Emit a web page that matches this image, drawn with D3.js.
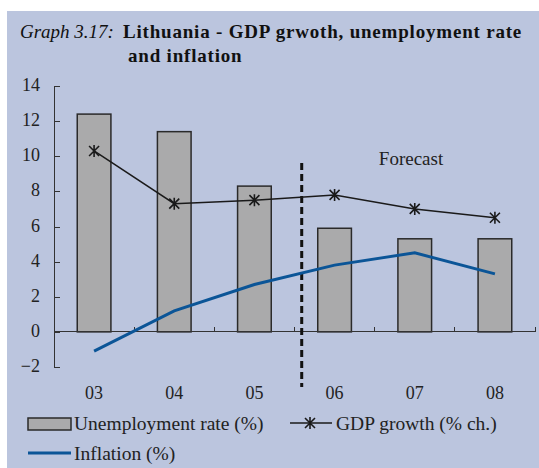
<!DOCTYPE html>
<html lang="en">
  <head>
    <meta charset="UTF-8" />
    <title>Lithuania - GDP growth, unemployment rate and inflation</title>
    <script src="https://d3js.org/d3.v7.min.js"></script>
    <style>
      body {
        margin: 0;
        background: #fff;
        font-family: "Liberation Serif", "Times New Roman", serif;
      }
      .axis path,
      .axis line {
        stroke: #333;
        shape-rendering: crispEdges;
      }
      .axis text {
        font-family: "Liberation Serif", serif;
        font-size: 18px;
        fill: #222;
      }
    </style>
  </head>
  <body>
    <script>
      var years = ["03", "04", "05", "06", "07", "08"];
      var unemployment = [12.4, 11.4, 8.3, 5.9, 5.3, 5.3];
      var gdpGrowth = [10.3, 7.3, 7.5, 7.8, 7.0, 6.5];
      var inflation = [-1.1, 1.2, 2.7, 3.8, 4.5, 3.3];
      var yTicks = [-2, 0, 2, 4, 6, 8, 10, 12, 14];

      var width = 539,
        height = 468;

      var svg = d3
        .select("body")
        .append("svg")
        .attr("width", width)
        .attr("height", height);

      // panel background
      svg
        .append("rect")
        .attr("x", 7)
        .attr("y", 11)
        .attr("width", width - 7)
        .attr("height", height - 11)
        .attr("fill", "#bbc5de");

      // title
      var title = svg
        .append("text")
        .attr("x", 20)
        .attr("y", 38)
        .style("font-size", "19px")
        .style("fill", "#111");
      title.append("tspan").style("font-style", "italic").text("Graph 3.17:");
      title
        .append("tspan")
        .attr("x", 123)
        .style("font-weight", "bold")
        .style("letter-spacing", "0.8px")
        .text("Lithuania -  GDP grwoth, unemployment rate");
      svg
        .append("text")
        .attr("x", 128)
        .attr("y", 62)
        .style("font-size", "19px")
        .style("font-weight", "bold")
        .style("letter-spacing", "0.8px")
        .style("fill", "#111")
        .text("and inflation");

      var x = d3.scaleBand().domain(years).range([54, 535]).padding(0);
      var y = d3.scaleLinear().domain([-2, 14]).range([367, 86]);
      function cx(d) {
        return x(d) + x.bandwidth() / 2;
      }

      // bars
      var barW = x.bandwidth() * 0.42;
      svg
        .selectAll(".bar")
        .data(years)
        .enter()
        .append("rect")
        .attr("class", "bar")
        .attr("x", function (d) {
          return cx(d) - barW / 2;
        })
        .attr("y", function (d, i) {
          return y(unemployment[i]);
        })
        .attr("width", barW)
        .attr("height", function (d, i) {
          return y(0) - y(unemployment[i]);
        })
        .attr("fill", "#aaaaab")
        .attr("stroke", "#2a2a2a")
        .attr("stroke-width", 1.5);

      // y axis
      var yAxis = svg
        .append("g")
        .attr("class", "axis")
        .attr("transform", "translate(54,0)")
        .call(d3.axisRight(y).tickValues(yTicks).tickSize(6).tickPadding(0));
      yAxis
        .selectAll("text")
        .attr("x", -14)
        .attr("dy", "0.25em")
        .style("text-anchor", "end");

      // x axis on zero line, ticks at band boundaries pointing up
      var xAxis = svg
        .append("g")
        .attr("class", "axis")
        .attr("transform", "translate(0," + y(0) + ")");
      xAxis
        .append("line")
        .attr("x1", 54)
        .attr("x2", 535)
        .attr("stroke", "#333");
      xAxis
        .selectAll(".xt")
        .data(years)
        .enter()
        .append("line")
        .attr("x1", function (d) {
          return x(d) + x.bandwidth();
        })
        .attr("x2", function (d) {
          return x(d) + x.bandwidth();
        })
        .attr("y1", 0)
        .attr("y2", -5)
        .attr("stroke", "#333");

      // category labels below the plot
      svg
        .selectAll(".xlab")
        .data(years)
        .enter()
        .append("text")
        .attr("x", cx)
        .attr("y", 399)
        .attr("text-anchor", "middle")
        .style("font-size", "18px")
        .style("fill", "#222")
        .text(function (d) {
          return d;
        });

      // forecast divider
      var divX = x("05") + x.step() * 1.09;
      svg
        .append("line")
        .attr("x1", divX)
        .attr("x2", divX)
        .attr("y1", 163)
        .attr("y2", 387)
        .attr("stroke", "#111")
        .attr("stroke-width", 3)
        .attr("stroke-dasharray", "7,4");

      svg
        .append("text")
        .attr("x", 411)
        .attr("y", 165)
        .attr("text-anchor", "middle")
        .style("font-size", "19px")
        .style("fill", "#222")
        .text("Forecast");

      // inflation line
      var line = d3.line();
      svg
        .append("path")
        .attr(
          "d",
          line(
            years.map(function (d, i) {
              return [cx(d), y(inflation[i])];
            })
          )
        )
        .attr("fill", "none")
        .attr("stroke", "#0b5597")
        .attr("stroke-width", 3);

      // gdp line with star markers
      svg
        .append("path")
        .attr(
          "d",
          line(
            years.map(function (d, i) {
              return [cx(d), y(gdpGrowth[i])];
            })
          )
        )
        .attr("fill", "none")
        .attr("stroke", "#1a1a1a")
        .attr("stroke-width", 1.5);

      function star(px, py) {
        var r = 5;
        return (
          "M" + (px - r) + "," + (py - r) + "L" + (px + r) + "," + (py + r) +
          "M" + (px - r) + "," + (py + r) + "L" + (px + r) + "," + (py - r) +
          "M" + px + "," + (py - 6) + "L" + px + "," + (py + 6)
        );
      }
      svg
        .selectAll(".star")
        .data(years)
        .enter()
        .append("path")
        .attr("d", function (d, i) {
          return star(cx(d), y(gdpGrowth[i]));
        })
        .attr("stroke", "#1a1a1a")
        .attr("stroke-width", 1.6)
        .attr("fill", "none");

      // legend
      var lg = svg.append("g").style("font-size", "19.5px").style("fill", "#222");
      lg.append("rect")
        .attr("x", 28)
        .attr("y", 418)
        .attr("width", 43)
        .attr("height", 12)
        .attr("fill", "#aaaaab")
        .attr("stroke", "#2a2a2a")
        .attr("stroke-width", 1.5);
      lg.append("text").attr("x", 74).attr("y", 430).text("Unemployment rate (%)");

      lg.append("line")
        .attr("x1", 290)
        .attr("x2", 332)
        .attr("y1", 423)
        .attr("y2", 423)
        .attr("stroke", "#1a1a1a")
        .attr("stroke-width", 1.5);
      lg.append("path")
        .attr("d", star(310, 423))
        .attr("stroke", "#1a1a1a")
        .attr("stroke-width", 1.6);
      lg.append("text").attr("x", 336).attr("y", 430).text("GDP growth (% ch.)");

      lg.append("line")
        .attr("x1", 28)
        .attr("x2", 71)
        .attr("y1", 453)
        .attr("y2", 453)
        .attr("stroke", "#0b5597")
        .attr("stroke-width", 3);
      lg.append("text").attr("x", 74).attr("y", 460).text("Inflation (%)");
    </script>
  </body>
</html>
